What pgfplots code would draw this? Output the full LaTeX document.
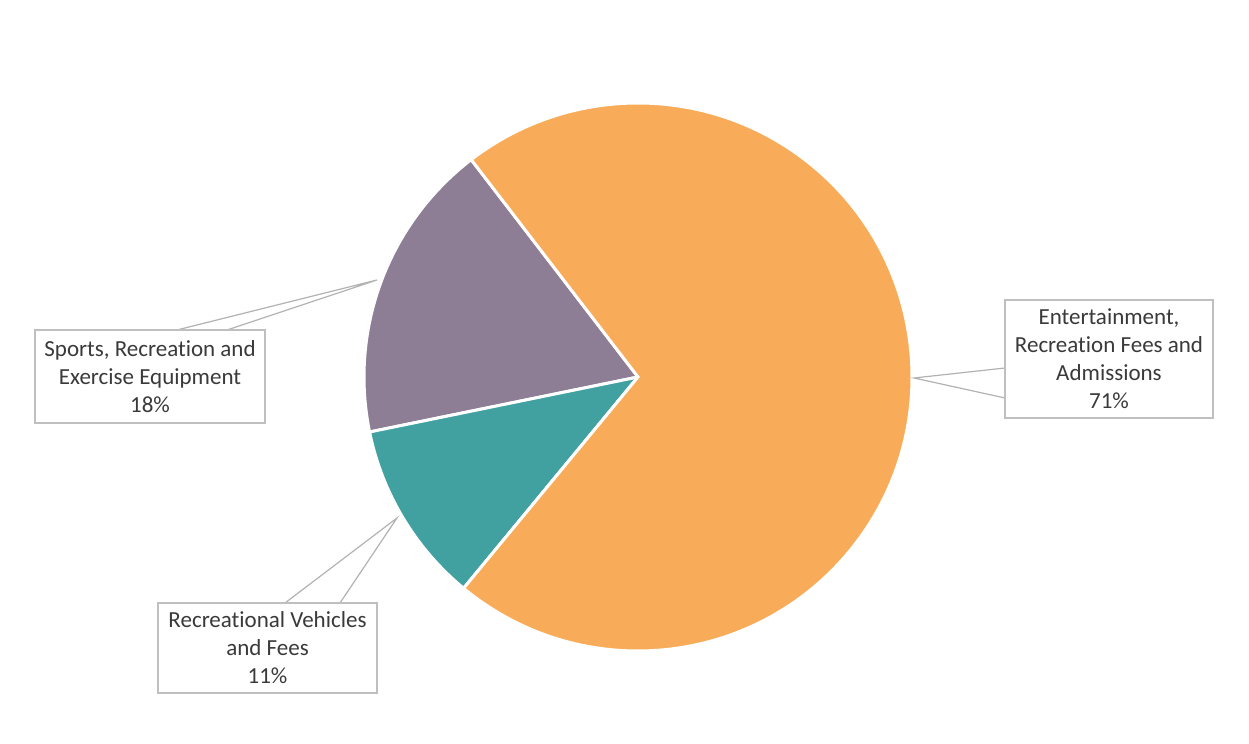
\documentclass[border=0pt]{standalone}
\usepackage{pgfplots}
\usepackage{pgfplotstable}
\pgfplotsset{compat=1.18}
\usepackage{fontspec}
\setmainfont[Ligatures={NoCommon,NoRequired,NoContextual},Contextuals={NoAlternate}]{Carlito}
\definecolor{pieorange}{HTML}{F8AC5A}
\definecolor{piepurple}{HTML}{8D7E96}
\definecolor{pieteal}{HTML}{41A0A0}
\definecolor{txt}{HTML}{3A3A3A}
\definecolor{boxline}{HTML}{BFBFBF}

\pgfplotstableread{
label value
Entertainment 71.4
Sports 17.8
Vehicles 10.8
}\piedata

\begin{document}
\begin{tikzpicture}
\pgfplotstablegetelem{0}{value}\of\piedata \let\vE\pgfplotsretval
\pgfplotstablegetelem{1}{value}\of\piedata \let\vS\pgfplotsretval
\pgfplotstablegetelem{2}{value}\of\piedata \let\vV\pgfplotsretval
\pgfmathsetmacro\aA{127.5}
\pgfmathsetmacro\aB{\aA+3.6*\vS}
\pgfmathsetmacro\aC{\aB+3.6*\vV}
\pgfmathsetmacro\aD{\aC+3.6*\vE}
\begin{axis}[
  x=0.5pt, y=0.5pt,
  xmin=0, xmax=1249, ymin=0, ymax=744,
  hide axis, clip=false,
  scale only axis,
]
\path (axis cs:0,0) rectangle (axis cs:1249,744);
% wedges
\fill[piepurple, draw=white, line width=1.5pt] (axis cs:638,367) -- ++(\aA:137pt) arc[start angle=\aA, end angle=\aB, radius=137pt] -- cycle;
\fill[pieteal, draw=white, line width=1.5pt] (axis cs:638,367) -- ++(\aB:137pt) arc[start angle=\aB, end angle=\aC, radius=137pt] -- cycle;
\fill[pieorange, draw=white, line width=1.5pt] (axis cs:638,367) -- ++(\aC:137pt) arc[start angle=\aC, end angle=\aD, radius=137pt] -- cycle;
% callout lines
\draw[gray!60, line width=0.6pt] (axis cs:177,414) -- (axis cs:377,464) -- (axis cs:227,414);
\draw[gray!60, line width=0.6pt] (axis cs:1005,376) -- (axis cs:914,366) -- (axis cs:1005,346);
\draw[gray!60, line width=0.6pt] (axis cs:285,141) -- (axis cs:397,226) -- (axis cs:340,141);
% label boxes
\node[draw=boxline, fill=white, line width=0.6pt, text=txt, align=center,
  minimum width=115pt, minimum height=46.5pt, inner sep=0pt,
  font=\fontsize{11.5}{14}\selectfont] at (axis cs:150,367.5)
  {Sports, Recreation and\\Exercise Equipment\\18\%};
\node[draw=boxline, fill=white, line width=0.6pt, text=txt, align=center,
  minimum width=104pt, minimum height=59pt, inner sep=0pt,
  font=\fontsize{11.5}{14}\selectfont] at (axis cs:1109,385)
  {Entertainment,\\Recreation Fees and\\Admissions\\71\%};
\node[draw=boxline, fill=white, line width=0.6pt, text=txt, align=center,
  minimum width=109.5pt, minimum height=45pt, inner sep=0pt,
  font=\fontsize{11.5}{14}\selectfont] at (axis cs:267.5,96)
  {Recreational Vehicles\\and Fees\\11\%};
\end{axis}
\end{tikzpicture}
\end{document}
